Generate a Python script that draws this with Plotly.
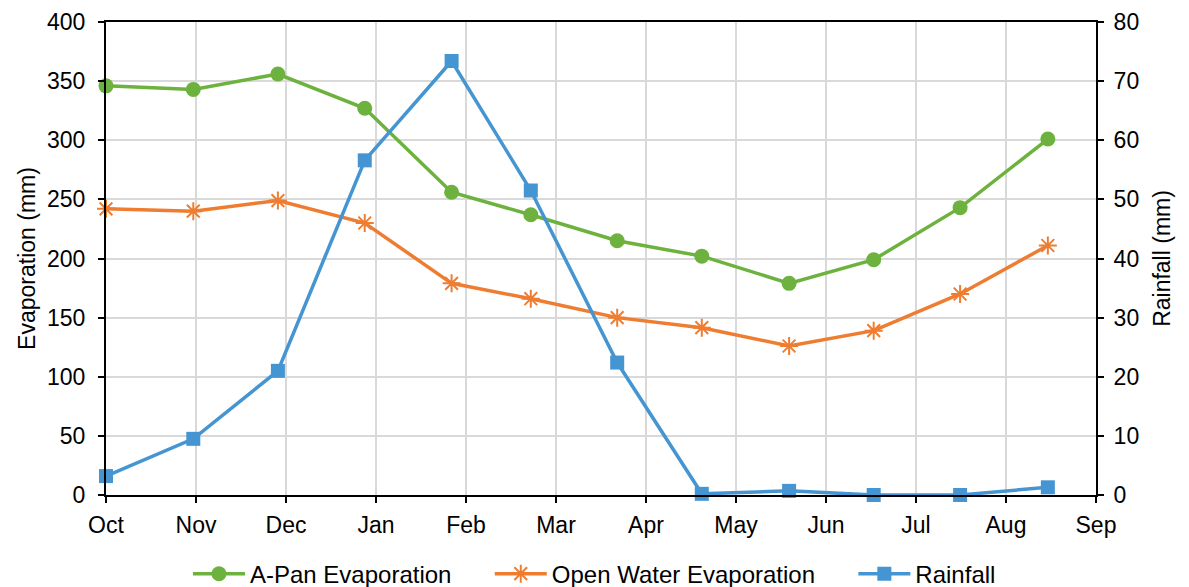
import plotly.graph_objects as go

months = ["Oct", "Nov", "Dec", "Jan", "Feb", "Mar", "Apr", "May", "Jun", "Jul", "Aug", "Sep"]
# x positions of observations, in months since 1 Oct
obs_pos = [0.0, 0.97, 1.91, 2.875, 3.84, 4.72, 5.68, 6.62, 7.59, 8.53, 9.49, 10.465]

apan_evap = [346, 343, 356, 327, 256, 237, 215, 202, 179, 199, 243, 301]
open_water_evap = [242, 240, 249, 230, 179, 166, 150, 141.5, 126, 139, 170, 211]
rainfall = [3.2, 9.5, 21.0, 56.6, 73.4, 51.5, 22.4, 0.2, 0.7, 0.0, 0.0, 1.3]

left_ticks = [0, 50, 100, 150, 200, 250, 300, 350, 400]
right_ticks = [0, 10, 20, 30, 40, 50, 60, 70, 80]

GREEN = "#6DB23E"
ORANGE = "#EE7D31"
BLUE = "#4495D1"
FONT = "Liberation Sans, Arial, sans-serif"
PAD = "\u00a0" * 5

fig = go.Figure()
fig.add_trace(go.Scatter(
    x=obs_pos, y=apan_evap, name="A-Pan Evaporation" + PAD, mode="lines+markers", cliponaxis=False,
    line=dict(color=GREEN, width=3.5), marker=dict(symbol="circle", size=15, color=GREEN),
))
fig.add_trace(go.Scatter(
    x=obs_pos, y=open_water_evap, name="Open Water Evaporation" + PAD, mode="lines+markers", cliponaxis=False,
    line=dict(color=ORANGE, width=3.5),
    marker=dict(symbol="asterisk-open", size=15, color=ORANGE, line=dict(color=ORANGE, width=2)),
))
fig.add_trace(go.Scatter(
    x=obs_pos, y=rainfall, name="Rainfall", mode="lines+markers", yaxis="y2", cliponaxis=False,
    line=dict(color=BLUE, width=3.5), marker=dict(symbol="square", size=14, color=BLUE),
))

fig.update_layout(
    width=1189, height=587,
    margin=dict(l=106, r=93, t=22, b=92),
    paper_bgcolor="white", plot_bgcolor="white",
    font=dict(family=FONT, size=23, color="#000000"),
    showlegend=True,
    legend=dict(orientation="h", x=0.4934, xanchor="center", xref="paper",
                y=0.022, yanchor="middle", yref="container",
                font=dict(size=24), itemwidth=52, traceorder="normal"),
    xaxis=dict(
        range=[0, 11], tickmode="array", tickvals=list(range(12)), ticktext=months,
        showgrid=True, gridcolor="#D9D9D9", gridwidth=1.5, automargin=False,
        showline=True, linecolor="#000000", linewidth=2, mirror=True,
        ticks="outside", ticklen=6, tickwidth=2, tickcolor="#000000",
        ticklabelstandoff=2, zeroline=False,
    ),
    yaxis=dict(
        range=[0, 400], tickvals=left_ticks, automargin=False,
        title=dict(text="Evaporation (mm)", font=dict(size=23), standoff=5),
        showgrid=True, gridcolor="#D9D9D9", gridwidth=1.5,
        showline=True, linecolor="#000000", linewidth=2,
        ticks="outside", ticklen=6, tickwidth=2, tickcolor="#000000",
        ticklabelstandoff=8, zeroline=False,
    ),
    yaxis2=dict(
        range=[0, 80], tickvals=right_ticks, overlaying="y", side="right", automargin=False,
        title=dict(text="Rainfall (mm)", font=dict(size=23), standoff=16),
        showgrid=False, showline=True, linecolor="#000000", linewidth=2,
        ticks="outside", ticklen=6, tickwidth=2, tickcolor="#000000",
        ticklabelstandoff=5, zeroline=False,
    ),
)

fig.write_html("out.html", post_script="document.body.style.margin='0';",
               config={"displayModeBar": False})
